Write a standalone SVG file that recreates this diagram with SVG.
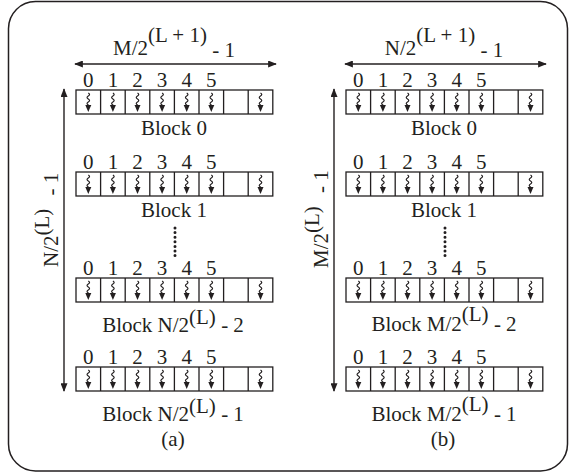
<svg xmlns="http://www.w3.org/2000/svg" xmlns:xlink="http://www.w3.org/1999/xlink" width="569" height="473" viewBox="0 0 569 473" font-family="'Liberation Serif', 'DejaVu Serif', serif">
<style>
text{font-family:'Liberation Serif','DejaVu Serif',serif;font-size:21px;fill:#231f20}
.cell{fill:#fff;stroke:#231f20;stroke-width:1.3}
.ln{stroke:#231f20;stroke-width:1.3;fill:none}
.sq{stroke:#231f20;stroke-width:1.2;fill:none}
.ah{fill:#231f20}
.dim{stroke:#231f20;stroke-width:1.4;fill:none;marker-start:url(#arr);marker-end:url(#arr)}
.dots{stroke:#231f20;stroke-width:3;stroke-linecap:round;stroke-dasharray:0 4.6;fill:none}
.frame{fill:none;stroke:#231f20;stroke-width:1.5}
</style>
<defs>
<marker id="arr" viewBox="0 0 10 8" refX="9" refY="4" markerWidth="9" markerHeight="7" markerUnits="userSpaceOnUse" orient="auto-start-reverse">
<path d="M0,0 L10,4 L0,8 z" class="ah"/>
</marker>
<g id="sq">
<path class="sq" d="M0,0 q2.5,1.5 0,3 q-2.5,1.5 0,3 q2.5,1.5 0,3 q-2.5,1.5 0,3 L0,13"/>
<polygon class="ah" points="-3,12 3,12 0,19"/>
</g>
<g id="row">
<rect class="cell" x="76" y="0" width="196.8" height="24"/>
<path class="ln" d="M100.6,0V24M125.2,0V24M149.8,0V24M174.4,0V24M199,0V24M223.6,0V24M248.2,0V24"/>
<use xlink:href="#sq" x="88.3" y="3"/>
<use xlink:href="#sq" x="112.9" y="3"/>
<use xlink:href="#sq" x="137.5" y="3"/>
<use xlink:href="#sq" x="162.1" y="3"/>
<use xlink:href="#sq" x="186.7" y="3"/>
<use xlink:href="#sq" x="211.3" y="3"/>
<use xlink:href="#sq" x="260.5" y="3"/>
<text y="-3.5" x="88.3" text-anchor="middle">0</text>
<text y="-3.5" x="112.9" text-anchor="middle">1</text>
<text y="-3.5" x="137.5" text-anchor="middle">2</text>
<text y="-3.5" x="162.1" text-anchor="middle">3</text>
<text y="-3.5" x="186.7" text-anchor="middle">4</text>
<text y="-3.5" x="211.3" text-anchor="middle">5</text>
</g>
</defs>
<rect class="frame" x="8.5" y="1.5" width="559" height="469.5" rx="27" ry="27"/>

<g id="panel-a">
<g id="a-width-label"><text x="174" y="55" text-anchor="middle">M/2<tspan dy="-13">(L + 1)</tspan><tspan dy="15"> - 1</tspan></text></g>
<g id="a-height-label"><text transform="translate(58,267) rotate(-90)">N/2<tspan dy="-9">(L)</tspan><tspan dy="9" dx="8"> - 1</tspan></text></g>
<g id="a-block0"><use xlink:href="#row" y="90"/><text x="174" y="135" text-anchor="middle">Block 0</text></g>
<g id="a-block1"><use xlink:href="#row" y="172"/><text x="174" y="217" text-anchor="middle">Block 1</text></g>
<g id="a-ellipsis"><path class="dots" d="M175,228V256"/></g>
<g id="a-block2"><use xlink:href="#row" y="278"/><text x="173" y="332" text-anchor="middle">Block N/2<tspan dy="-8">(L)</tspan><tspan dy="8"> - 2</tspan></text></g>
<g id="a-block3"><use xlink:href="#row" y="367"/><text x="173" y="421" text-anchor="middle">Block N/2<tspan dy="-8">(L)</tspan><tspan dy="8"> - 1</tspan></text></g>
<g id="a-caption"><text x="173" y="446" text-anchor="middle">(a)</text></g>
</g>

<g id="panel-b" transform="translate(270,0)">
<g id="b-width-label"><text x="174" y="55" text-anchor="middle">N/2<tspan dy="-13">(L + 1)</tspan><tspan dy="15"> - 1</tspan></text></g>
<g id="b-height-label"><text transform="translate(58,268) rotate(-90)">M/2<tspan dy="-9">(L)</tspan><tspan dy="9" dx="8"> - 1</tspan></text></g>
<g id="b-block0"><use xlink:href="#row" y="90"/><text x="174" y="135" text-anchor="middle">Block 0</text></g>
<g id="b-block1"><use xlink:href="#row" y="172"/><text x="174" y="217" text-anchor="middle">Block 1</text></g>
<g id="b-ellipsis"><path class="dots" d="M175,228V256"/></g>
<g id="b-block2"><use xlink:href="#row" y="278"/><text x="174" y="331" text-anchor="middle">Block M/2<tspan dy="-10">(L)</tspan><tspan dy="10"> - 2</tspan></text></g>
<g id="b-block3"><use xlink:href="#row" y="367"/><text x="174" y="421" text-anchor="middle">Block M/2<tspan dy="-10">(L)</tspan><tspan dy="10"> - 1</tspan></text></g>
<g id="b-caption"><text x="173" y="446" text-anchor="middle">(b)</text></g>
</g>

<g id="connectors">
<line class="dim" x1="75" y1="64" x2="276" y2="64"/>
<line class="dim" x1="64" y1="89" x2="64" y2="391"/>
<line class="dim" x1="345" y1="64" x2="546" y2="64"/>
<line class="dim" x1="334" y1="89" x2="334" y2="391"/>
</g>
</svg>
